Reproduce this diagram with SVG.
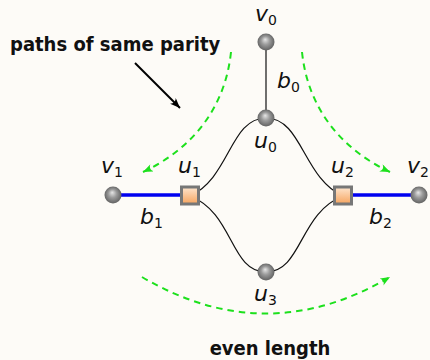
<svg xmlns="http://www.w3.org/2000/svg" width="430" height="360" viewBox="0 0 430 360">
<defs>
<radialGradient id="ball" cx="0.5" cy="0.5" r="0.55" fx="0.45" fy="0.35">
<stop offset="0" stop-color="#e6e6e6"/>
<stop offset="0.45" stop-color="#9a9a9a"/>
<stop offset="1" stop-color="#5a5a5a"/>
</radialGradient>
<linearGradient id="sq" x1="0" y1="0" x2="0" y2="1">
<stop offset="0" stop-color="#fee6cf"/>
<stop offset="1" stop-color="#f6a45e"/>
</linearGradient>
<marker id="ga" markerWidth="11" markerHeight="9" refX="10" refY="4" orient="auto" markerUnits="userSpaceOnUse">
<path d="M0,0 Q4,4 0,8 L10,4 Z" fill="#1de01d"/>
</marker>
<marker id="ka" markerWidth="11" markerHeight="9" refX="10" refY="4" orient="auto" markerUnits="userSpaceOnUse">
<path d="M0,0 Q4,4 0,8 L10,4 Z" fill="#000"/>
</marker>
</defs>
<style>
.lbl{font-family:"DejaVu Sans",sans-serif;font-style:italic;font-size:22px;fill:#111}
.sub{font-style:normal;font-size:14px}
.bold{font-family:"DejaVu Sans Condensed","DejaVu Sans",sans-serif;font-weight:bold;font-size:20px;fill:#111}
.green{fill:none;stroke:#1de01d;stroke-width:2;stroke-dasharray:6.5 5;marker-end:url(#ga)}
.ball{fill:url(#ball)}
.sqr{fill:url(#sq);stroke:#777;stroke-width:3}
.edge{fill:none;stroke:#111;stroke-width:1.2}
.blue{stroke:#0000f0;stroke-width:3.5}
</style>
<rect width="430" height="360" fill="#fdfbf7"/>
<g id="connectors">
<line class="edge" x1="266" y1="42" x2="266" y2="118" stroke-width="1.5"/>
<path class="edge" d="M190,196 C230,178 230,118 266,118"/>
<path class="edge" d="M343,196 C303,178 302,118 266,118"/>
<path class="edge" d="M190,196 C234,213 230,272 266,272"/>
<path class="edge" d="M343,196 C299,213 302,272 266,272"/>
<line class="blue" x1="113" y1="195" x2="182" y2="195"/>
<line class="blue" x1="351" y1="195" x2="419" y2="195"/>
</g>
<g id="annotations">
<path class="green" d="M231,52 C225,110 190,150 143,172"/>
<path class="green" d="M302,52 C308,110 343,150 390,172"/>
<path class="green" d="M142,277 Q266,350 390,277"/>
<line x1="135" y1="63" x2="180" y2="108" stroke="#000" stroke-width="2" marker-end="url(#ka)"/>
<text class="bold" x="10" y="51">paths of same parity</text>
<text class="bold" x="270" y="355" text-anchor="middle">even length</text>
</g>
<g id="v0"><circle class="ball" cx="266" cy="42" r="8.5"/><text class="lbl" x="255" y="21">v<tspan class="sub" dy="4">0</tspan></text></g>
<g id="b0"><text class="lbl" x="277" y="88">b<tspan class="sub" dy="4">0</tspan></text></g>
<g id="u0"><circle class="ball" cx="266" cy="118" r="8.5"/><text class="lbl" x="254" y="148">u<tspan class="sub" dy="4">0</tspan></text></g>
<g id="v1"><circle class="ball" cx="113" cy="195" r="8.5"/><text class="lbl" x="101" y="173">v<tspan class="sub" dy="4">1</tspan></text></g>
<g id="u1"><rect class="sqr" x="181.5" y="187" width="17" height="17"/><text class="lbl" x="178" y="173">u<tspan class="sub" dy="4">1</tspan></text></g>
<g id="b1"><text class="lbl" x="140" y="224">b<tspan class="sub" dy="4">1</tspan></text></g>
<g id="u2"><rect class="sqr" x="334.5" y="187" width="17" height="17"/><text class="lbl" x="331" y="173">u<tspan class="sub" dy="4">2</tspan></text></g>
<g id="v2"><circle class="ball" cx="419" cy="195" r="8.5"/><text class="lbl" x="407" y="173">v<tspan class="sub" dy="4">2</tspan></text></g>
<g id="b2"><text class="lbl" x="369" y="224">b<tspan class="sub" dy="4">2</tspan></text></g>
<g id="u3"><circle class="ball" cx="266" cy="272" r="8.5"/><text class="lbl" x="254" y="301">u<tspan class="sub" dy="4">3</tspan></text></g>
</svg>
